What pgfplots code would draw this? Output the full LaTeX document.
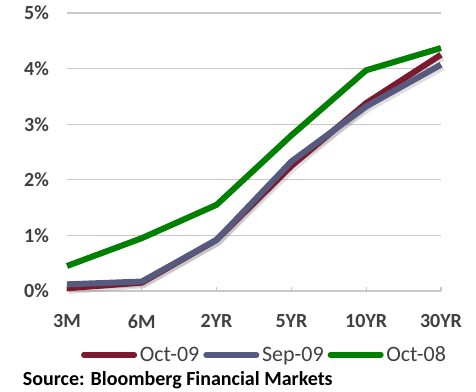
\documentclass[border=0pt]{standalone}
\usepackage{fontspec}
\setmainfont{Carlito}
\usepackage{pgfplots}
\pgfplotsset{compat=1.18}
\definecolor{cMaroon}{HTML}{7B1A2E}
\definecolor{cSlate}{HTML}{555A7E}
\definecolor{cGreen}{HTML}{008000}
\definecolor{cGrid}{HTML}{C8C8C8}
\definecolor{cText}{HTML}{404040}
\begin{document}
\begin{tikzpicture}
\useasboundingbox (0,0) rectangle (357pt,294pt);
\begin{axis}[
  at={(50.25pt,75.75pt)}, anchor=south west,
  scale only axis, width=280.5pt, height=208.5pt,
  xmin=0, xmax=5, ymin=0, ymax=5,
  xtick={0,...,5},
  xticklabels={3M,6M,2YR,5YR,10YR,30YR},
  ytick={0,1,2,3,4,5},
  yticklabels={0\%,1\%,2\%,3\%,4\%,5\%},
  axis x line*=bottom, axis y line*=left,
  x axis line style={draw=cGrid, line width=1pt},
  y axis line style={draw=none},
  ymajorgrids, grid style={draw=cGrid, line width=1pt},
  xtick style={draw=cGrid, line width=1pt},
  ytick style={draw=none},
  tick align=inside, major tick length=3pt,
  tick label style={font=\fontsize{15}{18}\selectfont\bfseries, text=cText},
  xticklabel style={yshift=-14pt},
  yticklabel style={xshift=-10pt},
  /pgf/number format/assume math mode=true,
  clip=false,
  legend columns=3,
  legend style={draw=none, fill=none, at={(0.529,-0.23)}, anchor=center,
    font=\fontsize{16.5}{19}\selectfont, text=cText,
    /tikz/every even column/.append style={column sep=1pt}},
  legend image code/.code={\draw[#1, line width=4pt, line cap=round] (0pt,0pt) -- (38pt,0pt);},
]
\addplot[gray, opacity=0.25, line width=4.5pt, shift={(1.5pt,-2pt)}, forget plot] coordinates {(0,0.05) (1,0.15) (2,0.92) (3,2.25) (4,3.38) (5,4.25)};
\addplot[gray, opacity=0.25, line width=4.5pt, shift={(1.5pt,-2pt)}, forget plot] coordinates {(0,0.12) (1,0.17) (2,0.92) (3,2.33) (4,3.32) (5,4.07)};
\addplot[cMaroon, line width=4.5pt] coordinates {(0,0.05) (1,0.15) (2,0.92) (3,2.25) (4,3.38) (5,4.25)};
\addlegendentry{Oct-09}
\addplot[cSlate, line width=4.5pt] coordinates {(0,0.12) (1,0.17) (2,0.92) (3,2.33) (4,3.32) (5,4.07)};
\addlegendentry{Sep-09}
\addplot[cGreen, line width=4.5pt] coordinates {(0,0.45) (1,0.95) (2,1.55) (3,2.80) (4,3.97) (5,4.37)};
\addlegendentry{Oct-08}
\end{axis}
\node[anchor=west, font=\fontsize{15}{18}\selectfont\bfseries, inner sep=0pt] at (17pt,9pt) {Source: Bloomberg Financial Markets};
\end{tikzpicture}
\end{document}
